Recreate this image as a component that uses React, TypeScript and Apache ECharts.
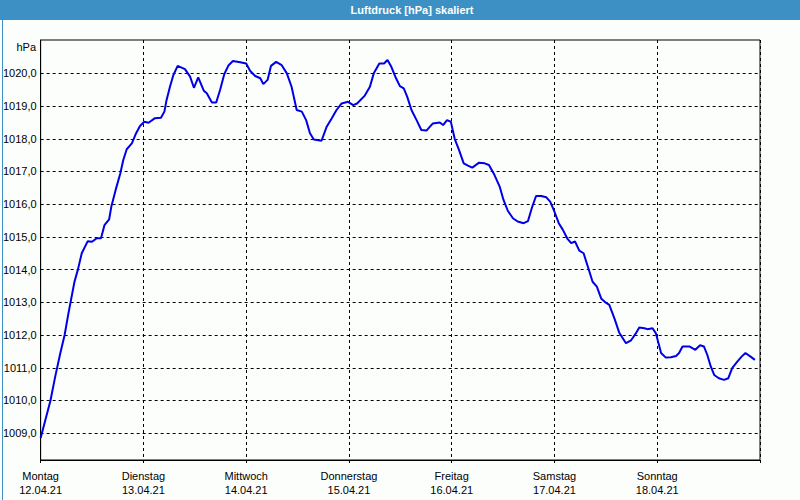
import React, { useEffect, useRef } from "react";
import * as echarts from "echarts";

const dayNames = ["Montag", "Dienstag", "Mittwoch", "Donnerstag", "Freitag", "Samstag", "Sonntag"];
const dayDates = ["12.04.21", "13.04.21", "14.04.21", "15.04.21", "16.04.21", "17.04.21", "18.04.21"];
const yTicks = [1009, 1010, 1011, 1012, 1013, 1014, 1015, 1016, 1017, 1018, 1019, 1020];

const hours = [
  0.0, 1.1, 2.3, 3.4, 4.6, 5.6, 6.5, 7.9, 8.7, 9.6, 11.0, 12.0, 13.1, 14.1, 14.9, 16.0, 16.5, 17.5, 18.6, 19.3,
  20.1, 21.3, 22.3, 23.2, 24.2, 25.2, 26.7, 28.1, 28.9, 29.4, 30.2, 31.0, 32.0, 33.7, 34.9, 35.8, 36.8, 38.1, 38.8, 40.0,
  41.0, 41.9, 42.9, 43.9, 44.9, 46.6, 48.0, 48.9, 50.1, 51.3, 52.0, 53.0, 53.8, 55.0, 56.3, 57.5, 58.6, 59.8, 61.0, 62.0,
  62.9, 63.8, 65.6, 66.8, 68.0, 69.1, 70.3, 71.8, 73.0, 73.9, 75.7, 76.9, 77.8, 79.1, 80.2, 81.0, 81.9, 83.0, 83.9, 84.8,
  85.6, 86.6, 87.8, 88.9, 90.1, 91.6, 93.2, 94.0, 94.9, 95.8, 96.7, 97.7, 98.8, 99.8, 100.8, 102.4, 103.7, 104.7, 106.0, 107.2,
  108.1, 109.1, 110.3, 111.4, 112.8, 113.8, 114.8, 115.7, 116.9, 118.1, 119.0, 120.0, 121.0, 121.9, 123.1, 123.9, 124.8, 125.8, 126.8, 127.8,
  128.9, 129.9, 130.9, 132.0, 132.8, 134.0, 135.1, 136.7, 137.9, 139.0, 139.8, 141.0, 141.7, 142.9, 143.7, 144.3, 144.9, 146.0, 147.2, 148.4,
  149.1, 149.9, 151.5, 152.9, 154.0, 154.9, 155.7, 156.5, 157.3, 158.4, 159.6, 160.6, 161.5, 162.7, 163.7, 164.6, 165.8, 166.8,
];

const pressure = [
  1008.85, 1009.4, 1010.0, 1010.73, 1011.45, 1012.0, 1012.67, 1013.63, 1014.0, 1014.5, 1014.87, 1014.85, 1014.96, 1014.96, 1015.36, 1015.54, 1015.92, 1016.43, 1016.94, 1017.35,
  1017.68, 1017.86, 1018.17, 1018.39, 1018.52, 1018.49, 1018.63, 1018.64, 1018.83, 1019.18, 1019.59, 1019.95, 1020.23, 1020.13, 1019.9, 1019.56, 1019.88, 1019.47, 1019.39, 1019.11,
  1019.11, 1019.49, 1019.98, 1020.25, 1020.38, 1020.34, 1020.3, 1020.08, 1019.92, 1019.85, 1019.67, 1019.8, 1020.23, 1020.35, 1020.25, 1020.0, 1019.59, 1018.88, 1018.83, 1018.57,
  1018.17, 1017.98, 1017.94, 1018.37, 1018.63, 1018.88, 1019.08, 1019.13, 1019.03, 1019.08, 1019.32, 1019.59, 1020.0, 1020.3, 1020.3, 1020.41, 1020.2, 1019.85, 1019.61, 1019.54,
  1019.29, 1018.88, 1018.57, 1018.27, 1018.25, 1018.47, 1018.5, 1018.42, 1018.57, 1018.52, 1018.0, 1017.66, 1017.25, 1017.18, 1017.12, 1017.27, 1017.25, 1017.2, 1016.89, 1016.54,
  1016.13, 1015.8, 1015.57, 1015.47, 1015.42, 1015.48, 1015.92, 1016.25, 1016.25, 1016.21, 1016.08, 1015.77, 1015.42, 1015.23, 1014.93, 1014.81, 1014.86, 1014.58, 1014.5, 1014.09,
  1013.63, 1013.48, 1013.12, 1012.99, 1012.92, 1012.51, 1012.08, 1011.75, 1011.84, 1012.05, 1012.23, 1012.21, 1012.18, 1012.21, 1012.05, 1011.75, 1011.45, 1011.31, 1011.32, 1011.36,
  1011.45, 1011.65, 1011.65, 1011.55, 1011.69, 1011.65, 1011.39, 1011.04, 1010.78, 1010.68, 1010.63, 1010.68, 1010.99, 1011.19, 1011.34, 1011.45, 1011.34, 1011.24,
];

const FONT = "Liberation Sans";

export default function App() {
  const ref = useRef<HTMLDivElement>(null);

  useEffect(() => {
    if (!ref.current) return;
    const chart = echarts.init(ref.current, null, { renderer: "svg" });
    const data = hours.map((h, i) => [h, pressure[i]]);
    const dayTicks = dayNames.map((_, i) => i * 24);

    chart.setOption({
      animation: false,
      backgroundColor: "#fcfefc",
      graphic: [
        { type: "rect", left: 0, top: 0, shape: { width: 800, height: 20 }, style: { fill: "#3d90c3" }, z: 0 },
        { type: "rect", left: 0, top: 0, shape: { width: 799, height: 499 }, style: { fill: "none", stroke: "#3d90c3", lineWidth: 1 }, z: 0 },
        {
          type: "text",
          x: 412,
          y: 10,
          style: {
            text: "Luftdruck [hPa] skaliert",
            fill: "#ffffff",
            font: `bold 11px "${FONT}"`,
            textAlign: "center",
            textVerticalAlign: "middle",
          },
        },
        {
          type: "text",
          x: 36,
          y: 47,
          style: {
            text: "hPa",
            fill: "#000",
            font: `11px "${FONT}"`,
            textAlign: "right",
            textVerticalAlign: "middle",
          },
        },
      ],
      grid: {
        left: 40,
        top: 40,
        width: 720,
        height: 420,
        show: true,
        borderColor: "#000",
        borderWidth: 1,
        backgroundColor: "#fcfefc",
        containLabel: false,
      },
      xAxis: {
        type: "value",
        min: 0,
        max: 168,
        interval: 24,
        axisLine: { show: true, lineStyle: { color: "#000", width: 1 } },
        axisTick: { show: true, length: 3, lineStyle: { color: "#000" } },
        axisLabel: {
          customValues: dayTicks,
          margin: 9,
          color: "#000",
          fontFamily: FONT,
          fontSize: 11,
          lineHeight: 14,
          formatter: (v: number) => {
            const i = Math.round(v / 24);
            return i >= 0 && i < dayNames.length ? `${dayNames[i]}\n${dayDates[i]}` : "";
          },
        },
        splitLine: { show: true, lineStyle: { color: "#000", type: [3, 3], width: 1 } },
      },
      yAxis: {
        type: "value",
        min: 1008.18,
        max: 1021.02,
        axisLine: { show: true, lineStyle: { color: "#000", width: 1 } },
        axisTick: { show: false, customValues: yTicks },
        axisLabel: {
          customValues: yTicks,
          margin: 4,
          color: "#000",
          fontFamily: FONT,
          fontSize: 11,
          formatter: (v: number) => v.toFixed(1).replace(".", ","),
        },
        splitLine: { show: true, lineStyle: { color: "#000", type: [3, 3], width: 1 } },
      },
      series: [
        {
          type: "line",
          data,
          showSymbol: false,
          symbol: "none",
          smooth: false,
          lineStyle: { color: "#0000e6", width: 2 },
          z: 3,
        },
      ],
    });

    return () => chart.dispose();
  }, []);

  return <div ref={ref} style={{ position: "fixed", left: 0, top: 0, width: 800, height: 500 }} />;
}
